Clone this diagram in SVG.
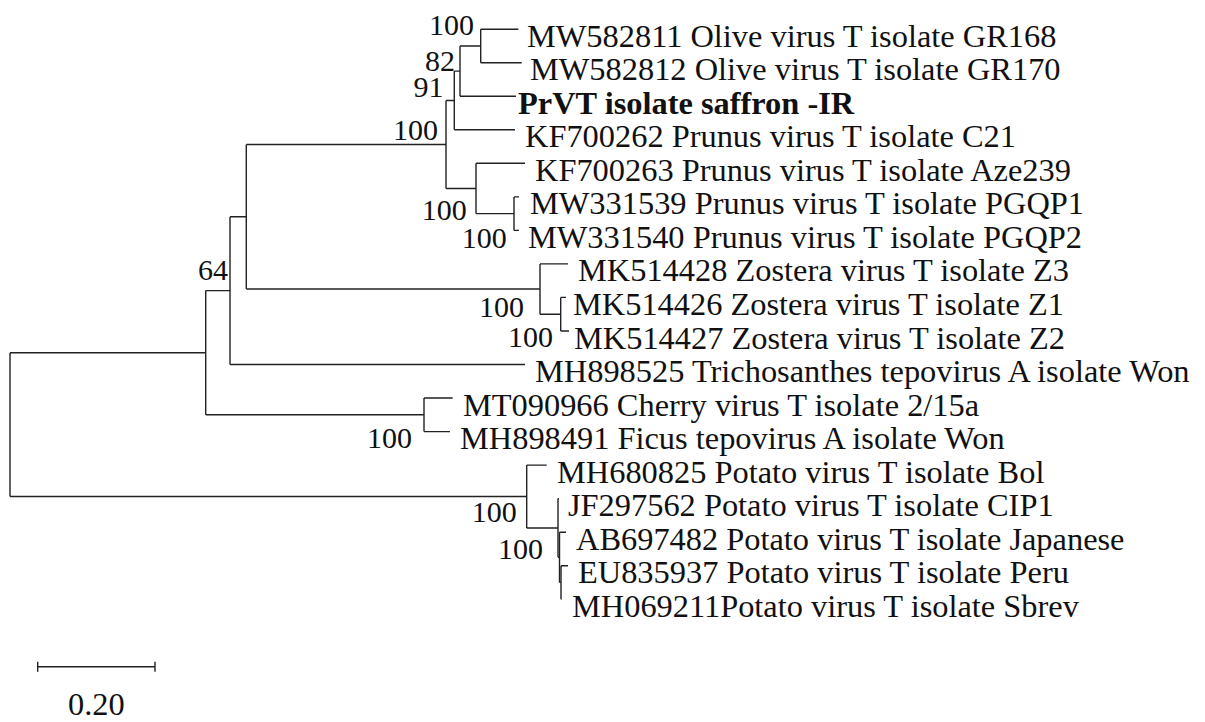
<svg xmlns="http://www.w3.org/2000/svg" width="1205" height="722" viewBox="0 0 1205 722">
<style>
.br{fill:none;stroke:#222;stroke-width:1.4}
.lb{font-family:"Liberation Serif","Times New Roman",serif;font-size:32.4px;fill:#111}
.bs{font-family:"Liberation Serif","Times New Roman",serif;font-size:30px;fill:#111;text-anchor:end}
.bold{font-weight:bold}
</style>
<rect width="1205" height="722" fill="#fff"/>
<g id="connectors">
<path class="br" d="M10 352.7V496.5M10 352.7H205.7M10 496.5H526.7"/>
<path class="br" d="M205.7 290.6V414.8M205.7 290.6H230M205.7 414.8H424"/>
<path class="br" d="M230 216.8V364.5M230 216.8H246.3M230 364.5H525"/>
<path class="br" d="M246.3 144.5V289M246.3 144.5H446M246.3 289H540"/>
<path class="br" d="M446 100.5V188.5M446 100.5H454.3M446 188.5H476"/>
<path class="br" d="M454.3 71.1V129.8M454.3 71.1H460M454.3 129.8H515"/>
<path class="br" d="M460 46V96.3M460 46H480.7M460 96.3H516"/>
<path class="br" d="M480.7 29.2V62.7M480.7 29.2H518.3M480.7 62.7H521.7"/>
<path class="br" d="M476 163.3V213.6M476 163.3H525M476 213.6H514"/>
<path class="br" d="M514 196.9V230.4M514 196.9H519M514 230.4H519"/>
<path class="br" d="M540 263.9V314.2M540 263.9H568M540 314.2H560.7"/>
<path class="br" d="M560.7 297.4V331M560.7 297.4H566M560.7 331H569"/>
<path class="br" d="M424 398V431.6M424 398H452.7M424 431.6H450"/>
<path class="br" d="M526.7 465.1V528M526.7 465.1H546.7M526.7 528H558"/>
<path class="br" d="M558 498.6V557.3M558 498.6H559M558 557.3H559.5"/>
<path class="br" d="M559.5 532.2V582.4M559.5 532.2H566M559.5 582.4H561"/>
<path class="br" d="M561 565.7V599.2M561 565.7H568M561 599.2H561.5"/>
</g>
<g id="support">
<g id="n_olive"><text class="bs" x="474" y="35">100</text></g>
<g id="n_82"><text class="bs" x="455" y="71">82</text></g>
<g id="n_91"><text class="bs" x="443.5" y="97">91</text></g>
<g id="n_prunus"><text class="bs" x="438" y="140">100</text></g>
<g id="n_kf263"><text class="bs" x="466.7" y="220">100</text></g>
<g id="n_mw33"><text class="bs" x="506.7" y="248.3">100</text></g>
<g id="n_64"><text class="bs" x="228" y="280">64</text></g>
<g id="n_zos"><text class="bs" x="524" y="316.7">100</text></g>
<g id="n_zos2"><text class="bs" x="553" y="346.7">100</text></g>
<g id="n_cherry"><text class="bs" x="412" y="448">100</text></g>
<g id="n_potA"><text class="bs" x="516.7" y="521.7">100</text></g>
<g id="n_potB"><text class="bs" x="543" y="559">100</text></g>
</g>
<g id="leaves">
<g id="leaf0"><text class="lb" x="527" y="46.7">MW582811 Olive virus T isolate GR168</text></g>
<g id="leaf1"><text class="lb" x="530" y="80.2">MW582812 Olive virus T isolate GR170</text></g>
<g id="leaf2"><text class="lb bold" x="518" y="113.8">PrVT isolate saffron -IR</text></g>
<g id="leaf3"><text class="lb" x="525" y="147.3">KF700262 Prunus virus T isolate C21</text></g>
<g id="leaf4"><text class="lb" x="535" y="180.8">KF700263 Prunus virus T isolate Aze239</text></g>
<g id="leaf5"><text class="lb" x="530" y="214.4">MW331539 Prunus virus T isolate PGQP1</text></g>
<g id="leaf6"><text class="lb" x="528" y="247.9">MW331540 Prunus virus T isolate PGQP2</text></g>
<g id="leaf7"><text class="lb" x="578" y="281.4">MK514428 Zostera virus T isolate Z3</text></g>
<g id="leaf8"><text class="lb" x="573" y="314.9">MK514426 Zostera virus T isolate Z1</text></g>
<g id="leaf9"><text class="lb" x="574" y="348.5">MK514427 Zostera virus T isolate Z2</text></g>
<g id="leaf10"><text class="lb" x="535" y="382">MH898525 Trichosanthes tepovirus A isolate Won</text></g>
<g id="leaf11"><text class="lb" x="463" y="415.5">MT090966 Cherry virus T isolate 2/15a</text></g>
<g id="leaf12"><text class="lb" x="460" y="449.1">MH898491 Ficus tepovirus A isolate Won</text></g>
<g id="leaf13"><text class="lb" x="557" y="482.6">MH680825 Potato virus T isolate Bol</text></g>
<g id="leaf14"><text class="lb" x="568" y="516.1">JF297562 Potato virus T isolate CIP1</text></g>
<g id="leaf15"><text class="lb" x="576" y="549.7">AB697482 Potato virus T isolate Japanese</text></g>
<g id="leaf16"><text class="lb" x="578" y="583.2">EU835937 Potato virus T isolate Peru</text></g>
<g id="leaf17"><text class="lb" x="572" y="616.7">MH069211Potato virus T isolate Sbrev</text></g>
</g>
<g id="scalebar">
<path class="br" d="M37.7 666.7H155M37.7 661.7V671.7M155 661.7V671.7"/>
<text class="lb" x="96.4" y="715" text-anchor="middle">0.20</text>
</g>
</svg>
